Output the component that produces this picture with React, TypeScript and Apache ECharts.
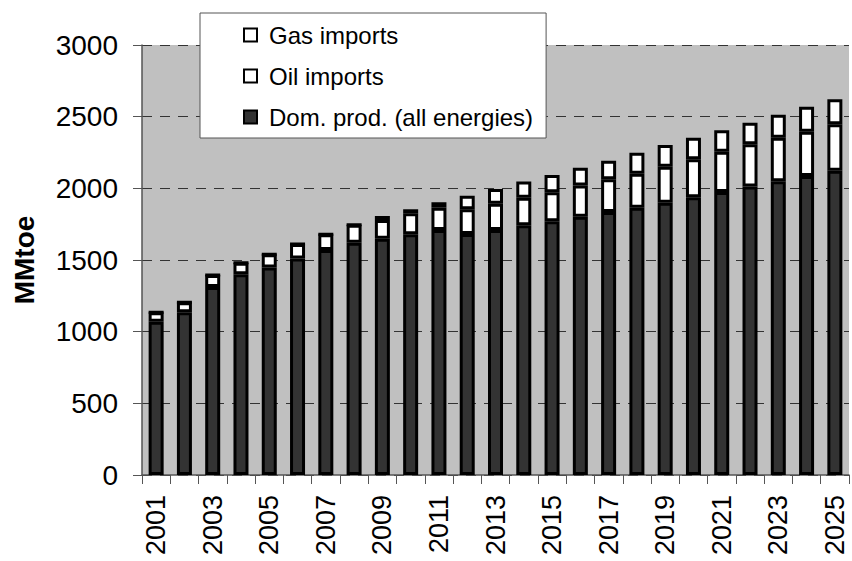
import React, { useEffect, useRef } from "react";
import * as echarts from "echarts";

const years = [
  "2001", "2002", "2003", "2004", "2005", "2006", "2007", "2008", "2009", "2010",
  "2011", "2012", "2013", "2014", "2015", "2016", "2017", "2018", "2019", "2020",
  "2021", "2022", "2023", "2024", "2025",
];
const domProd = [
  1070, 1135, 1312, 1400, 1447, 1510, 1570, 1621, 1649, 1679,
  1709, 1681, 1709, 1742, 1770, 1802, 1835, 1865, 1900, 1937,
  1975, 2012, 2049, 2086, 2123,
];
const oilImports = [
  65, 70, 83, 81, 93, 102, 109, 125, 130, 147,
  156, 173, 184, 193, 202, 217, 228, 237, 251, 266,
  281, 295, 304, 309, 324,
];
const gasImports = [
  0, 0, 0, 0, 0, 0, 0, 0, 28, 28,
  38, 95, 102, 112, 121, 125, 130, 147, 151, 150,
  149, 151, 161, 175, 174,
];

const FONT = "'Liberation Sans', Arial, Helvetica, sans-serif";

export default function App() {
  const ref = useRef<HTMLDivElement>(null);
  useEffect(() => {
    if (!ref.current) return;
    const chart = echarts.init(ref.current, undefined, { renderer: "svg" });
    const barStyle = (color: string) => ({
      color,
      borderColor: "#000",
      borderWidth: 3,
    });
    chart.setOption({
      animation: false,
      textStyle: { fontFamily: FONT },
      grid: {
        left: 142,
        right: 3,
        top: 45,
        bottom: 86,
        show: true,
        backgroundColor: "#c0c0c0",
        borderWidth: 0,
        containLabel: false,
        outerBoundsMode: "none",
      },
      legend: {
        orient: "vertical",
        left: 200,
        top: 13,
        data: ["Gas imports", "Oil imports", "Dom. prod. (all energies)"],
        backgroundColor: "#fff",
        borderColor: "#555",
        borderWidth: 1,
        borderRadius: 0,
        padding: [10, 13, 9, 43],
        itemWidth: 13,
        itemHeight: 13,
        itemGap: 17,
        icon: "rect",
        textStyle: {
          fontSize: 24,
          fontFamily: FONT,
          color: "#000",
          lineHeight: 24,
          padding: [0, 0, 0, 7],
        },
        selectedMode: false,
      },
      xAxis: {
        type: "category",
        data: years,
        axisLine: { lineStyle: { color: "#555", width: 1.5 } },
        axisTick: { show: true, length: 9, interval: 0, lineStyle: { color: "#555" } },
        axisLabel: {
          interval: 1,
          rotate: 90,
          fontSize: 27,
          color: "#000",
          margin: 20,
          fontFamily: FONT,
        },
      },
      yAxis: {
        type: "value",
        min: 0,
        max: 3000,
        interval: 500,
        name: "MMtoe",
        nameLocation: "middle",
        nameGap: 104,
        nameRotate: 90,
        nameTextStyle: { fontSize: 28, fontWeight: "bold", color: "#000", fontFamily: FONT },
        axisLine: { show: true, lineStyle: { color: "#555", width: 1.5 } },
        axisTick: { show: true, length: 9, lineStyle: { color: "#555" } },
        axisLabel: {
          fontSize: 28,
          color: "#000",
          margin: 24,
          fontFamily: FONT,
          formatter: (v: number) => String(v),
        },
        splitLine: { show: true, lineStyle: { color: "#333", type: [10, 8], width: 1 } },
      },
      series: [
        {
          name: "Dom. prod. (all energies)",
          type: "bar",
          stack: "total",
          data: domProd,
          barWidth: 15,
          itemStyle: barStyle("#333333"),
        },
        {
          name: "Oil imports",
          type: "bar",
          stack: "total",
          data: oilImports,
          barWidth: 15,
          itemStyle: barStyle("#ffffff"),
        },
        {
          name: "Gas imports",
          type: "bar",
          stack: "total",
          data: gasImports,
          barWidth: 15,
          itemStyle: barStyle("#ffffff"),
        },
      ],
    });
    return () => chart.dispose();
  }, []);
  return <div ref={ref} style={{ width: 852, height: 561, position: "absolute", left: 0, top: 0 }} />;
}
